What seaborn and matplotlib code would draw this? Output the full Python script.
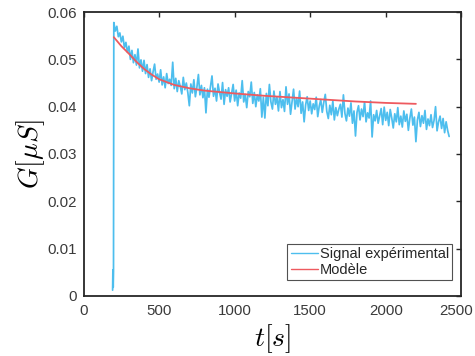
import numpy as np
import pandas as pd
import matplotlib
matplotlib.use("Agg")
import matplotlib.pyplot as plt
import matplotlib.transforms as mtransforms
import seaborn as sns

# ---- data ----
t_pre = [192, 194, 196, 198]
G_pre = [0.0012, 0.0055, 0.0018, 0.0052]

t_signal = np.arange(200, 2421, 10)
G_signal = [
    0.0578, 0.0560, 0.0570, 0.0548, 0.0556, 0.0537, 0.0549, 0.0525, 0.0536, 0.0515,
    0.0528, 0.0500, 0.0519, 0.0493, 0.0510, 0.0488, 0.0522, 0.0482, 0.0499, 0.0475,
    0.0498, 0.0470, 0.0489, 0.0462, 0.0480, 0.0455, 0.0474, 0.0490, 0.0458, 0.0469,
    0.0452, 0.0478, 0.0446, 0.0463, 0.0440, 0.0470, 0.0449, 0.0458, 0.0445, 0.0494,
    0.0438, 0.0460, 0.0432, 0.0455, 0.0443, 0.0427, 0.0462, 0.0436, 0.0450, 0.0430,
    0.0402, 0.0448, 0.0429, 0.0457, 0.0421, 0.0441, 0.0468, 0.0425, 0.0445, 0.0419,
    0.0440, 0.0387, 0.0437, 0.0420, 0.0443, 0.0465, 0.0422, 0.0439, 0.0412, 0.0448,
    0.0430, 0.0416, 0.0451, 0.0405, 0.0436, 0.0422, 0.0440, 0.0410, 0.0428, 0.0447,
    0.0412, 0.0435, 0.0402, 0.0429, 0.0418, 0.0455, 0.0410, 0.0426, 0.0398, 0.0432,
    0.0421, 0.0452, 0.0407, 0.0430, 0.0400, 0.0425, 0.0412, 0.0438, 0.0378, 0.0420,
    0.0376, 0.0428, 0.0402, 0.0447, 0.0410, 0.0395, 0.0433, 0.0405, 0.0420, 0.0391,
    0.0432, 0.0398, 0.0415, 0.0390, 0.0442, 0.0405, 0.0427, 0.0384, 0.0411, 0.0437,
    0.0395, 0.0418, 0.0400, 0.0433, 0.0386, 0.0410, 0.0368, 0.0404, 0.0421, 0.0392,
    0.0412, 0.0385, 0.0406, 0.0394, 0.0420, 0.0379, 0.0401, 0.0415, 0.0388, 0.0409,
    0.0426, 0.0390, 0.0375, 0.0403, 0.0383, 0.0412, 0.0372, 0.0398, 0.0381, 0.0395,
    0.0405, 0.0378, 0.0425, 0.0386, 0.0370, 0.0397, 0.0380, 0.0408, 0.0365, 0.0391,
    0.0338, 0.0388, 0.0402, 0.0372, 0.0395, 0.0379, 0.0410, 0.0368, 0.0387, 0.0376,
    0.0412, 0.0336, 0.0383, 0.0370, 0.0392, 0.0365, 0.0380, 0.0396, 0.0362, 0.0399,
    0.0371, 0.0388, 0.0360, 0.0394, 0.0376, 0.0355, 0.0385, 0.0368, 0.0398, 0.0362,
    0.0380, 0.0357, 0.0391, 0.0369, 0.0384, 0.0350, 0.0376, 0.0395, 0.0361, 0.0378,
    0.0326, 0.0372, 0.0388, 0.0358, 0.0381, 0.0365, 0.0392, 0.0352, 0.0374, 0.0360,
    0.0383, 0.0356, 0.0371, 0.0400, 0.0349, 0.0368, 0.0380, 0.0354, 0.0375, 0.0345,
    0.0368, 0.0350, 0.0337,
]

t_model = [200, 250, 300, 350, 400, 450, 500, 600, 700, 800, 1000, 1200, 1400, 1600, 1800, 2000, 2200]
G_model = [0.0547, 0.0528, 0.0512, 0.0495, 0.0480, 0.0468, 0.0458, 0.0446, 0.0439, 0.0434,
           0.0428, 0.0423, 0.0419, 0.0415, 0.0411, 0.0408, 0.0406]

x_ticks = [0, 500, 1000, 1500, 2000, 2500]
y_ticks = [0, 0.01, 0.02, 0.03, 0.04, 0.05, 0.06]
y_tick_labels = ["0", "0.01", "0.02", "0.03", "0.04", "0.05", "0.06"]
label_signal = "Signal expérimental"
label_model = "Modèle"

# ---- tables ----
df_sig = pd.DataFrame({"t": list(t_pre) + list(t_signal), "G": list(G_pre) + list(G_signal)})
df_mod = pd.DataFrame({"t": t_model, "G": G_model})

sns.set_theme(style="white")
plt.rcParams["font.family"] = ["Liberation Sans", "DejaVu Sans"]
plt.rcParams["mathtext.fontset"] = "cm"

fig = plt.figure(figsize=(4.75, 3.56), dpi=100)
ax = fig.add_axes([0.176, 0.169, 0.795, 0.797])

sns.lineplot(data=df_sig, x="t", y="G", ax=ax, color="#4DBEEE", linewidth=1.25,
             label=label_signal, sort=False, estimator=None)
sns.lineplot(data=df_mod, x="t", y="G", ax=ax, color="#EE5A5F", linewidth=1.3,
             label=label_model, sort=False, estimator=None)

ax.set_xlim(0, 2500)
ax.set_ylim(0, 0.06)
ax.set_xticks(x_ticks)
ax.set_xticklabels([str(v) for v in x_ticks])
ax.set_yticks(y_ticks)
ax.set_yticklabels(y_tick_labels)

dark = "#262626"
for s in ax.spines.values():
    s.set_visible(True)
    s.set_color(dark)
    s.set_linewidth(1.3)
ax.tick_params(direction="in", top=True, right=True, length=3.5, width=1.0,
               colors=dark, labelsize=10.8)
ax.tick_params(axis="x", pad=6)
ax.tick_params(axis="y", pad=5)
for lbl in ax.get_xticklabels() + ax.get_yticklabels():
    lbl.set_color("#3a3a3a")

# keep the last x tick label inside the canvas (as in the reference)
last = ax.get_xticklabels()[-1]
last.set_transform(last.get_transform() +
                   mtransforms.ScaledTranslation(-5 / 100, 0, fig.dpi_scale_trans))

ax.set_xlabel(r"$t[s]$", fontsize=20, color="black", labelpad=3)
ax.set_ylabel(r"$G[\mu S]$", fontsize=20, color="black", labelpad=0)

leg = ax.legend(loc="lower right", bbox_to_anchor=(0.976, 0.056), borderaxespad=0,
                fontsize=10.5, frameon=True, fancybox=False, handlelength=1.9,
                handletextpad=0.1, borderpad=0.22, labelspacing=0.12)
leg.get_frame().set_edgecolor(dark)
leg.get_frame().set_linewidth(0.8)
for h in leg.get_lines():
    h.set_linewidth(1.0)

fig.savefig("out.png", dpi=100)
